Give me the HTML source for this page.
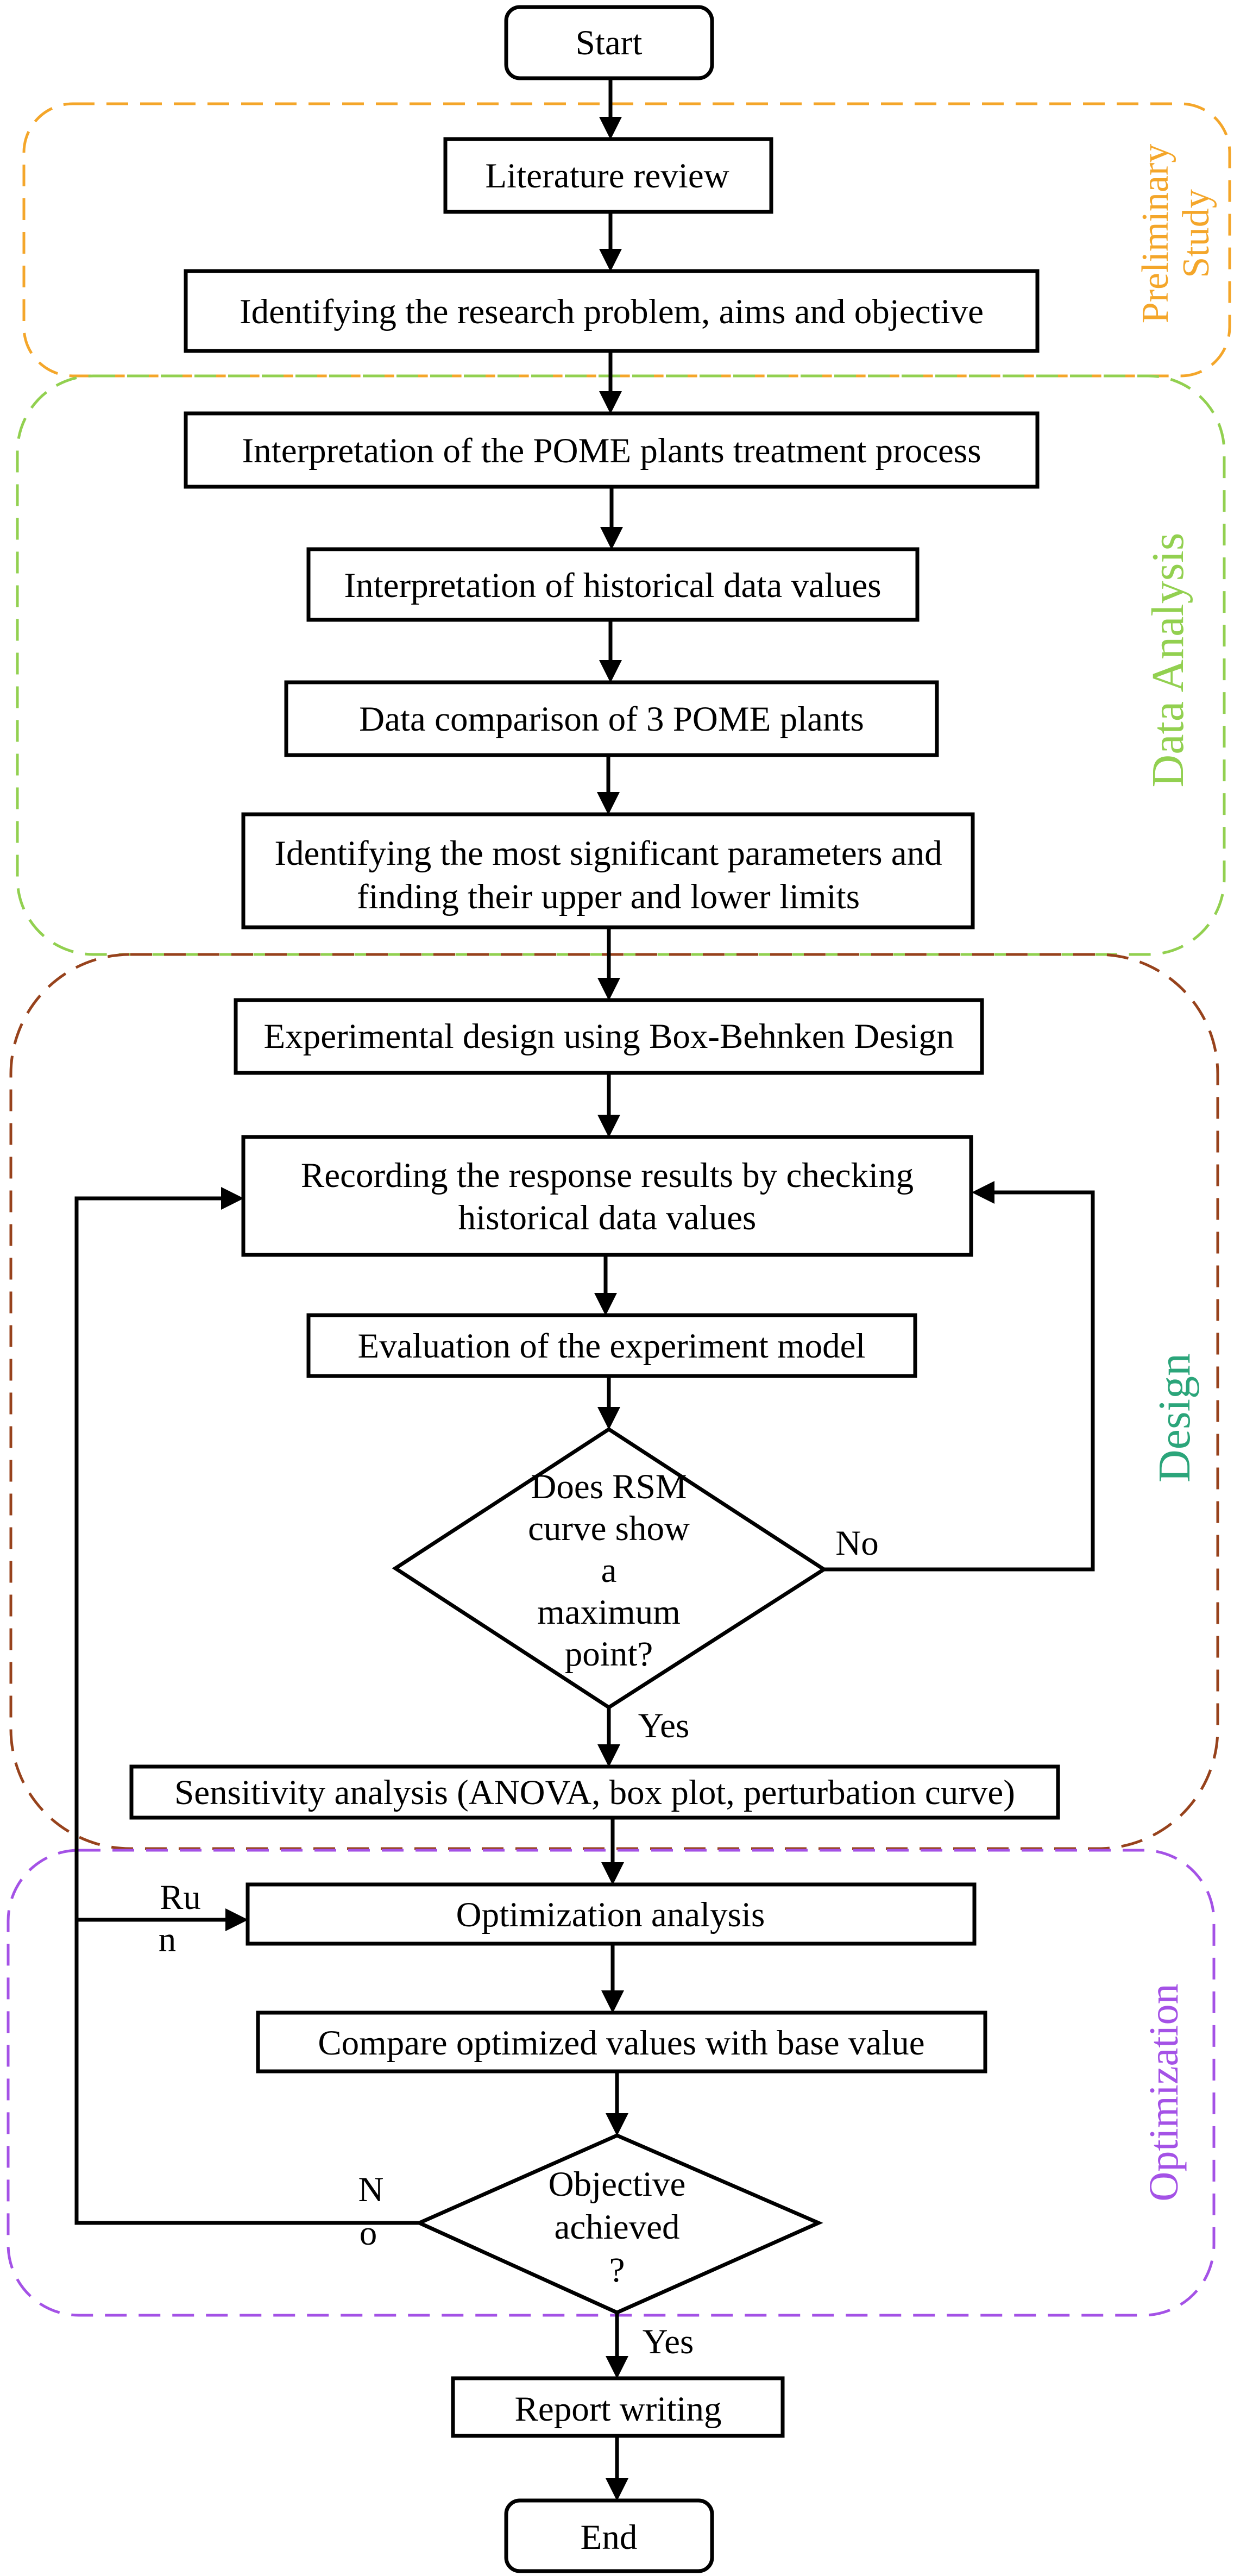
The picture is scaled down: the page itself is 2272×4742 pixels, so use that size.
<!DOCTYPE html>
<html><head><meta charset="utf-8"><style>
html,body{margin:0;padding:0;background:#fff}
svg{display:block}
text{font-family:"Liberation Serif",serif;fill:#000}
</style></head><body>
<svg width="2272" height="4742" viewBox="0 0 2272 4742" xmlns="http://www.w3.org/2000/svg">
<defs>
<marker id="a" markerWidth="6" markerHeight="6" refX="5" refY="3" orient="auto" markerUnits="strokeWidth">
<path d="M0,0 L6,3 L0,6 z" fill="#000"/></marker>
</defs>
<rect x="44" y="191" width="2220" height="501" rx="90" fill="none" stroke="#F4A62A" stroke-width="5" stroke-dasharray="40,22"/>
<rect x="32" y="692" width="2222" height="1065" rx="140" fill="none" stroke="#92D050" stroke-width="5" stroke-dasharray="40,22"/>
<rect x="20" y="1757" width="2222" height="1646" rx="220" fill="none" stroke="#97421C" stroke-width="5" stroke-dasharray="40,22"/>
<rect x="15" y="3406" width="2220" height="856" rx="130" fill="none" stroke="#A452E6" stroke-width="5" stroke-dasharray="40,22"/>
<text transform="translate(2150,430) rotate(-90)" text-anchor="middle" font-size="70" style="fill:#F4A62A">Preliminary</text>
<text transform="translate(2225,430) rotate(-90)" text-anchor="middle" font-size="70" style="fill:#F4A62A">Study</text>
<text transform="translate(2178,1215) rotate(-90)" text-anchor="middle" font-size="84" style="fill:#92D050">Data Analysis</text>
<text transform="translate(2190,2610) rotate(-90)" text-anchor="middle" font-size="84" style="fill:#2BA57A">Design</text>
<text transform="translate(2168,3852) rotate(-90)" text-anchor="middle" font-size="76" style="fill:#A452E6">Optimization</text>

<g fill="#fff" stroke="#000" stroke-width="7">
<rect x="932" y="13" width="379" height="131" rx="25"/>
<rect x="820" y="256" width="600" height="134"/>
<rect x="342" y="499" width="1568" height="147"/>
<rect x="342" y="761" width="1568" height="135"/>
<rect x="568" y="1011" width="1121" height="130"/>
<rect x="527" y="1256" width="1198" height="134"/>
<rect x="448" y="1499" width="1343" height="208"/>
<rect x="434" y="1841" width="1374" height="134"/>
<rect x="448" y="2093" width="1340" height="217"/>
<rect x="568" y="2421" width="1117" height="112"/>
<polygon points="1121,2631 1517,2889 1121,3143 728,2887"/>
<rect x="242" y="3252" width="1706" height="94"/>
<rect x="456" y="3469" width="1338" height="109"/>
<rect x="475" y="3705" width="1339" height="108"/>
<polygon points="1136,3931 1507,4092 1136,4257 772,4092"/>
<rect x="834" y="4378" width="607" height="106"/>
<rect x="932" y="4603" width="379" height="130" rx="25"/>
</g>

<g stroke="#000" stroke-width="7" fill="none" marker-end="url(#a)">
<line x1="1124" y1="144" x2="1124" y2="250"/>
<line x1="1124" y1="390" x2="1124" y2="493"/>
<line x1="1124" y1="646" x2="1124" y2="755"/>
<line x1="1126" y1="896" x2="1126" y2="1005"/>
<line x1="1124" y1="1141" x2="1124" y2="1250"/>
<line x1="1120" y1="1390" x2="1120" y2="1493"/>
<line x1="1121" y1="1707" x2="1121" y2="1835"/>
<line x1="1121" y1="1975" x2="1121" y2="2087"/>
<line x1="1115" y1="2310" x2="1115" y2="2415"/>
<line x1="1121" y1="2533" x2="1121" y2="2625"/>
<line x1="1121" y1="3143" x2="1121" y2="3246"/>
<line x1="1128" y1="3346" x2="1128" y2="3463"/>
<line x1="1128" y1="3578" x2="1128" y2="3699"/>
<line x1="1136" y1="3813" x2="1136" y2="3925"/>
<line x1="1136" y1="4257" x2="1136" y2="4372"/>
<line x1="1136" y1="4484" x2="1136" y2="4597"/>
<polyline points="1517,2889 2012,2889 2012,2195 1796,2195"/>
<polyline points="772,4092 141,4092 141,2206 442,2206"/>
<line x1="141" y1="3534" x2="450" y2="3534"/>
</g>

<g font-size="65" text-anchor="middle">
<text x="1121" y="100">Start</text>
<text x="1118" y="345">Literature review</text>
<text x="1126" y="595">Identifying the research problem, aims and objective</text>
<text x="1126" y="851">Interpretation of the POME plants treatment process</text>
<text x="1128" y="1099">Interpretation of historical data values</text>
<text x="1126" y="1345">Data comparison of 3 POME plants</text>
<text x="1120" y="1592">Identifying the most significant parameters and</text>
<text x="1120" y="1672">finding their upper and lower limits</text>
<text x="1121" y="1929">Experimental design using Box-Behnken Design</text>
<text x="1118" y="2185">Recording the response results by checking</text>
<text x="1118" y="2263">historical data values</text>
<text x="1126" y="2499">Evaluation of the experiment model</text>
<text x="1121" y="2758">Does RSM</text>
<text x="1121" y="2835">curve show</text>
<text x="1121" y="2912">a</text>
<text x="1121" y="2989">maximum</text>
<text x="1121" y="3066">point?</text>
<text x="1095" y="3321">Sensitivity analysis (ANOVA, box plot, perturbation curve)</text>
<text x="1124" y="3546">Optimization analysis</text>
<text x="1144" y="3782">Compare optimized values with base value</text>
<text x="1136" y="4042">Objective</text>
<text x="1136" y="4121">achieved</text>
<text x="1136" y="4200">?</text>
<text x="1138" y="4456">Report writing</text>
<text x="1121" y="4692">End</text>
<text x="1578" y="2862">No</text>
<text x="1222" y="3198">Yes</text>
<text x="332" y="3514">Ru</text>
<text x="308" y="3592">n</text>
<text x="683" y="4052">N</text>
<text x="678" y="4132">o</text>
<text x="1230" y="4332">Yes</text>
</g>
</svg>
</body></html>
